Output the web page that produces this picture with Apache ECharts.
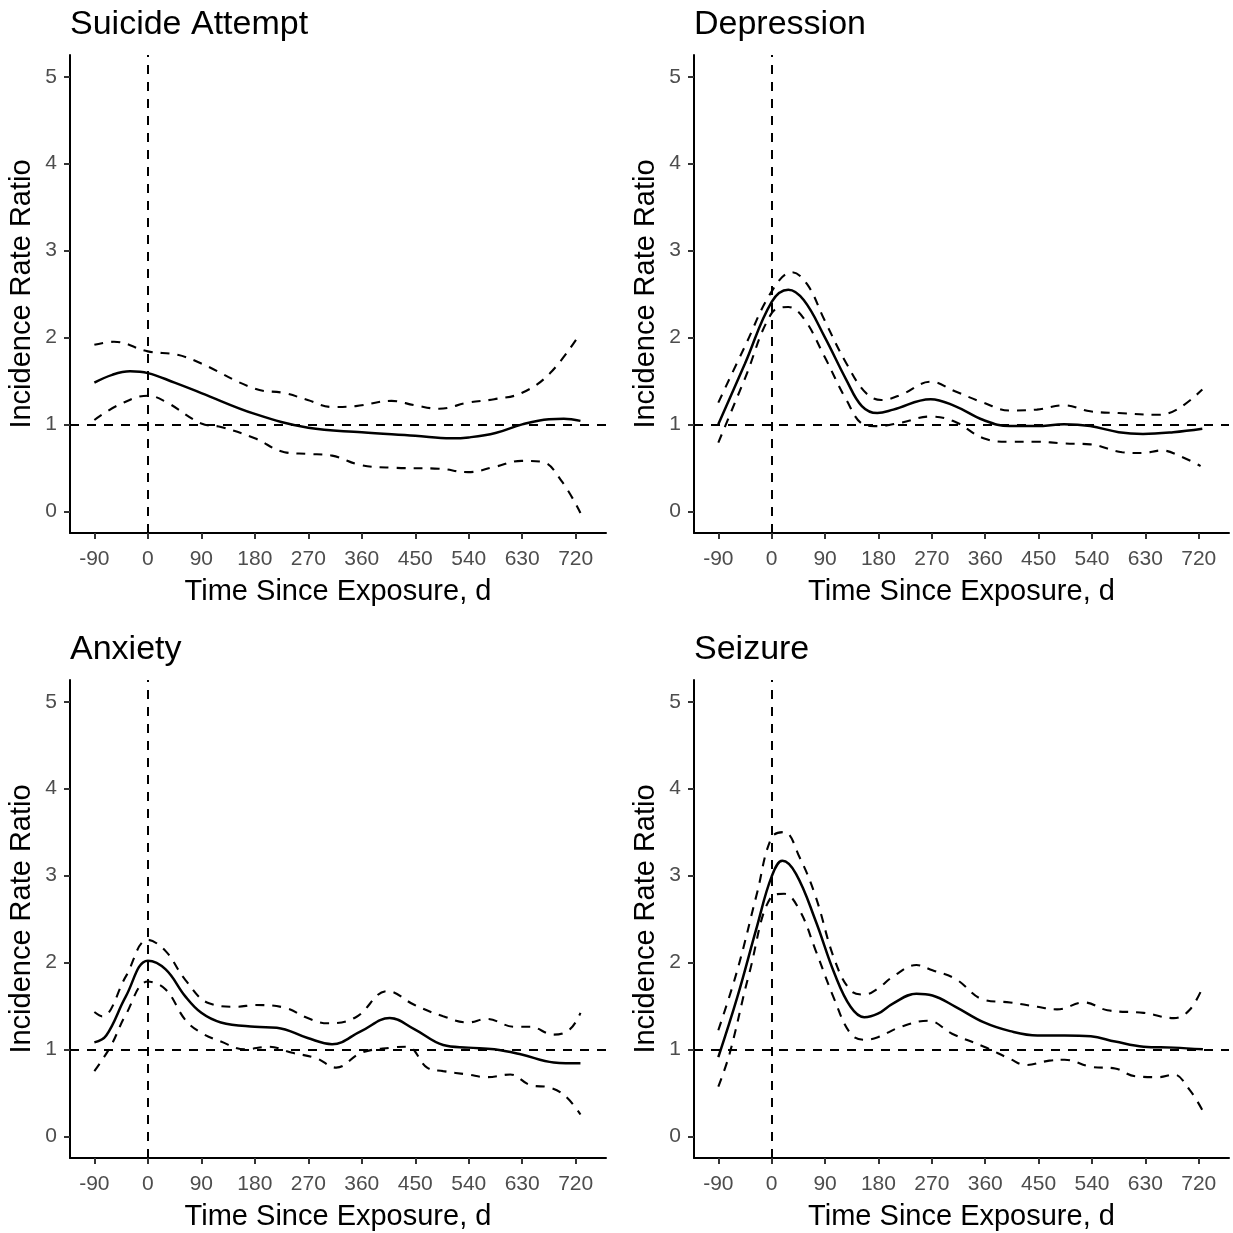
<!DOCTYPE html>
<html>
<head>
<meta charset="utf-8">
<script src="https://cdn.jsdelivr.net/npm/echarts@6/dist/echarts.min.js"></script>
<style>
  html, body { margin: 0; padding: 0; background: #fff; }
  #chart { width: 1233px; height: 1233px; }
</style>
</head>
<body>
<div id="chart"></div>
<script>
// panel titles and axis ticks
var panelTitles = ['Suicide Attempt', 'Depression', 'Anxiety', 'Seizure'];
var xTicks = [-90, 0, 90, 180, 270, 360, 450, 540, 630, 720];
var yTicks = [0, 1, 2, 3, 4, 5];

// Suicide Attempt: [day, IRR]
var suicideEst = [[-90,1.48],[-60,1.57],[-30,1.61],[0,1.59],[45,1.48],[90,1.36],[180,1.12],[270,0.96],[360,0.91],[450,0.87],[510,0.84],[540,0.85],[585,0.9],[630,1.0],[675,1.06],[700,1.065],[728,1.04]];
var suicideHi = [[-90,1.915],[-57,1.95],[0,1.84],[50,1.8],[90,1.7],[180,1.41],[230,1.36],[269,1.28],[310,1.2],[350,1.21],[410,1.27],[449,1.22],[490,1.18],[539,1.25],[583,1.29],[629,1.36],[677,1.59],[728,2.05]];
var suicideLo = [[-90,1.05],[-50,1.22],[0,1.33],[30,1.26],[90,1.01],[123,0.97],[180,0.84],[230,0.68],[269,0.66],[310,0.64],[359,0.53],[417,0.5],[490,0.49],[539,0.45],[583,0.51],[629,0.58],[663,0.57],[697,0.34],[728,-0.02]];

// Depression
var depressionEst = [[-90,1.0],[-45,1.7],[0,2.41],[28,2.55],[54,2.43],[89,2.01],[126,1.51],[152,1.21],[178,1.13],[205,1.17],[268,1.29],[309,1.21],[357,1.05],[401,0.98],[447,0.98],[493,1.0],[537,0.98],[585,0.91],[626,0.89],[677,0.91],[726,0.95]];
var depressionHi = [[-90,1.25],[-45,1.9],[0,2.53],[34,2.75],[60,2.61],[89,2.2],[126,1.7],[159,1.36],[185,1.28],[218,1.34],[268,1.49],[309,1.38],[357,1.25],[401,1.16],[447,1.17],[493,1.22],[537,1.15],[585,1.13],[650,1.11],[683,1.17],[726,1.4]];
var depressionLo = [[-90,0.79],[-45,1.53],[0,2.28],[28,2.35],[54,2.22],[89,1.78],[126,1.28],[155,1.0],[178,0.98],[218,1.02],[268,1.09],[309,1.03],[357,0.84],[401,0.8],[447,0.8],[493,0.78],[537,0.77],[591,0.68],[626,0.67],[657,0.7],[690,0.63],[723,0.52]];

// Anxiety
var anxietyEst = [[-90,1.08],[-70,1.16],[-37,1.61],[0,2.02],[30,1.92],[63,1.61],[90,1.42],[123,1.31],[180,1.26],[217,1.25],[269,1.13],[310,1.06],[359,1.21],[407,1.36],[449,1.23],[497,1.05],[539,1.02],[583,1.0],[629,0.94],[683,0.85],[728,0.84]];
var anxietyHi = [[-90,1.43],[-77,1.38],[-37,1.84],[0,2.26],[30,2.13],[63,1.8],[103,1.53],[150,1.49],[180,1.51],[230,1.48],[269,1.36],[303,1.3],[350,1.37],[403,1.67],[449,1.51],[497,1.38],[539,1.31],[570,1.35],[617,1.26],[643,1.26],[683,1.17],[710,1.23],[728,1.42]];
var anxietyLo = [[-90,0.75],[-63,1.03],[-37,1.4],[0,1.78],[30,1.69],[63,1.34],[90,1.19],[123,1.09],[163,1.0],[203,1.03],[243,0.96],[283,0.9],[317,0.79],[359,0.96],[410,1.02],[437,1.03],[470,0.79],[497,0.75],[539,0.71],[570,0.68],[610,0.71],[643,0.59],[677,0.56],[703,0.46],[728,0.25]];

// Seizure
var seizureEst = [[-90,0.91],[-58,1.6],[-25,2.41],[0,2.99],[18,3.17],[41,3.02],[74,2.48],[106,1.87],[133,1.49],[156,1.37],[179,1.41],[205,1.53],[244,1.64],[271,1.62],[310,1.49],[358,1.31],[402,1.21],[448,1.16],[494,1.16],[538,1.15],[579,1.09],[627,1.03],[678,1.02],[727,1.0]];
var seizureHi = [[-90,1.22],[-58,1.91],[-25,2.79],[0,3.44],[21,3.5],[47,3.21],[74,2.76],[106,2.03],[133,1.68],[156,1.63],[179,1.7],[205,1.84],[244,1.97],[271,1.91],[310,1.81],[358,1.57],[402,1.54],[448,1.49],[481,1.46],[527,1.54],[566,1.45],[627,1.42],[678,1.36],[704,1.45],[727,1.72]];
var seizureLo = [[-90,0.57],[-71,0.95],[-38,1.87],[0,2.76],[21,2.79],[47,2.6],[74,2.14],[106,1.57],[133,1.18],[156,1.11],[179,1.14],[218,1.26],[264,1.33],[304,1.18],[358,1.03],[402,0.89],[428,0.82],[468,0.87],[494,0.88],[538,0.8],[579,0.78],[613,0.69],[652,0.68],[678,0.71],[704,0.54],[727,0.29]];

var panelData = [
    [suicideEst, suicideHi, suicideLo],
    [depressionEst, depressionHi, depressionLo],
    [anxietyEst, anxietyHi, anxietyLo],
    [seizureEst, seizureHi, seizureLo]
];

var font = 'Liberation Sans, Arial, sans-serif';
var grids = [
    { left: 70, top: 55, width: 536, height: 478 },
    { left: 694, top: 55, width: 535, height: 478 },
    { left: 70, top: 680, width: 536, height: 478 },
    { left: 694, top: 680, width: 535, height: 478 }
];
var dash = [9, 8];

var option = {
    backgroundColor: '#fff',
    animation: false,
    title: [],
    grid: grids,
    xAxis: [],
    yAxis: [],
    series: []
};

grids.forEach(function (g, i) {
    option.title.push({
        text: panelTitles[i],
        left: g.left,
        top: g.top - 47,
        padding: 0,
        textStyle: { fontFamily: font, fontSize: 34, fontWeight: 'normal', color: '#000' }
    });
    option.xAxis.push({
        type: 'value', gridIndex: i, min: -131, max: 771,
        name: 'Time Since Exposure, d', nameLocation: 'middle', nameGap: 44,
        nameTextStyle: { fontFamily: font, fontSize: 29, color: '#000' },
        axisLine: { show: true, onZero: false, lineStyle: { color: '#000', width: 2 } },
        axisTick: { show: true, length: 6, customValues: xTicks, lineStyle: { color: '#333', width: 2 } },
        axisLabel: { customValues: xTicks, fontFamily: font, fontSize: 21, color: '#4D4D4D', margin: 16 },
        splitLine: { show: false }
    });
    option.yAxis.push({
        type: 'value', gridIndex: i, min: -0.25, max: 5.25,
        name: 'Incidence Rate Ratio', nameLocation: 'middle', nameGap: 34,
        nameTextStyle: { fontFamily: font, fontSize: 29, color: '#000' },
        axisLine: { show: true, onZero: false, lineStyle: { color: '#000', width: 2 } },
        axisTick: { show: true, length: 6, customValues: yTicks, lineStyle: { color: '#333', width: 2 } },
        axisLabel: { customValues: yTicks, fontFamily: font, fontSize: 21, color: '#4D4D4D', margin: 13 },
        splitLine: { show: false }
    });

    var d = panelData[i];
    // point estimate with reference lines
    option.series.push({
        type: 'line', xAxisIndex: i, yAxisIndex: i, data: d[0],
        showSymbol: false, smooth: 0.4, silent: true,
        lineStyle: { color: '#000', width: 2.5 },
        markLine: {
            silent: true, symbol: ['none', 'none'], label: { show: false },
            lineStyle: { color: '#000', width: 2, type: dash },
            data: [{ yAxis: 1 }, { xAxis: 0 }]
        }
    });
    // confidence bounds
    [d[1], d[2]].forEach(function (ci) {
        option.series.push({
            type: 'line', xAxisIndex: i, yAxisIndex: i, data: ci,
            showSymbol: false, smooth: 0.4, silent: true,
            lineStyle: { color: '#000', width: 2.1, type: dash }
        });
    });
});

var myChart = echarts.init(document.getElementById('chart'), null, { renderer: 'canvas' });
myChart.setOption(option);
</script>
</body>
</html>
